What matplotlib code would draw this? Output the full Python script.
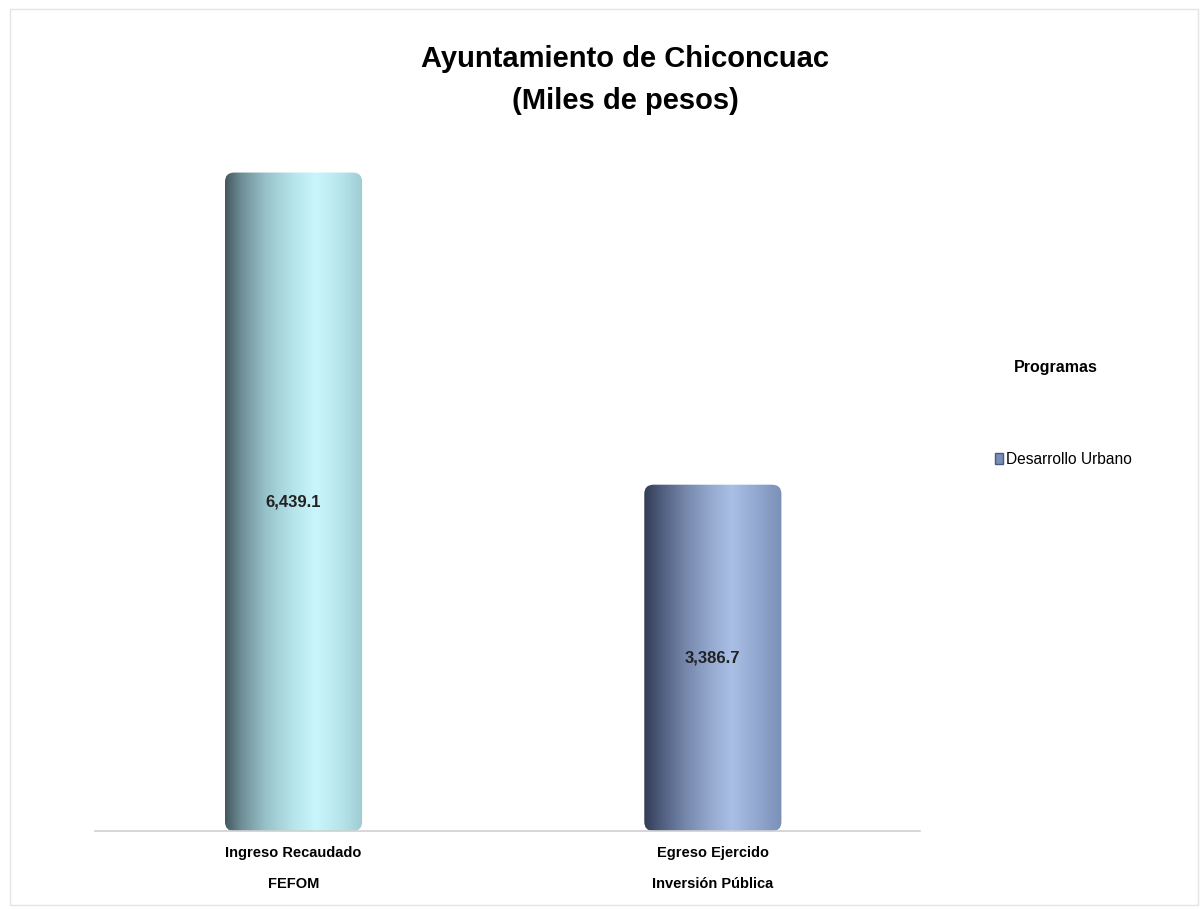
import numpy as np
import matplotlib
matplotlib.use("Agg")
import matplotlib.pyplot as plt
from matplotlib.colors import LinearSegmentedColormap
from matplotlib.patches import FancyBboxPatch, Rectangle

plt.rcParams["font.family"] = ["Liberation Sans", "DejaVu Sans"]

categories = ["Ingreso Recaudado\nFEFOM", "Egreso Ejercido\nInversión Pública"]
values = [6439.1, 3386.7]
value_labels = ["6,439.1", "3,386.7"]
series_name = "Desarrollo Urbano"

# left-to-right shading of each cylinder
GRADIENTS = [
    [(0.0, "#44585e"), (0.12, "#6f8f97"), (0.3, "#99c3cb"), (0.5, "#b7e5ec"),
     (0.66, "#c9f6fc"), (0.85, "#b6e4eb"), (1.0, "#9fcbd3")],
    [(0.0, "#323c54"), (0.12, "#4e5c7c"), (0.3, "#7587ab"), (0.5, "#98acd2"),
     (0.64, "#a9bfe5"), (0.85, "#8ea4cc"), (1.0, "#7b90b7")],
]

fig = plt.figure(figsize=(12, 9.1), dpi=100)
ax = fig.add_axes([0.079, 0.0868, 0.688, 0.781])

x = np.arange(len(categories))
bars = ax.bar(x, values, width=0.327, color="none", edgecolor="none")

ax.set_xlim(-0.474, 1.495)
ax.set_ylim(0, 6950)

# px per data unit ratio, so the top corners round evenly
asp = (0.688 * 1200 / 1.969) / (0.781 * 910 / 6950)

for i, b in enumerate(bars):
    bx, bw, bh = b.get_x(), b.get_width(), b.get_height()
    shape = FancyBboxPatch((bx, 0), bw, bh,
                           boxstyle="round,pad=0,rounding_size=0.022",
                           mutation_aspect=asp, facecolor="none",
                           edgecolor="none", zorder=2)
    ax.add_patch(shape)
    cmap = LinearSegmentedColormap.from_list(f"cyl{i}", GRADIENTS[i])
    grad = np.linspace(0, 1, 512).reshape(1, -1)
    im = ax.imshow(grad, cmap=cmap, extent=[bx, bx + bw, 0, bh],
                   aspect="auto", zorder=2, interpolation="bilinear")
    im.set_clip_path(shape)
    ax.text(bx + bw / 2, bh / 2, value_labels[i], ha="center",
            va="center", fontsize=12, fontweight="bold", color="#222222", zorder=3)

ax.set_xticks(x)
ax.set_xticklabels(categories, fontsize=10.5, fontweight="bold", linespacing=2.5)
ax.tick_params(axis="x", length=0, pad=11)
ax.set_yticks([])
for s in ["top", "right", "left"]:
    ax.spines[s].set_visible(False)
ax.spines["bottom"].set_color("#d0d0d0")
ax.spines["bottom"].set_linewidth(1.2)

fig.text(0.521, 0.912, "Ayuntamiento de Chiconcuac\n(Miles de pesos)", ha="center",
         va="center", fontsize=21, fontweight="bold", linespacing=1.62)

fig.text(0.88, 0.596, "Programas", ha="center", va="center", fontsize=11.5,
         fontweight="bold")
handle = Rectangle((0, 0), 1, 1, facecolor="#7a8fb6", edgecolor="#4a5a80")
fig.legend([handle], [series_name], loc="center left", bbox_to_anchor=(0.829, 0.495),
           frameon=False, fontsize=11.2, handlelength=0.5, handleheight=0.75,
           handletextpad=0.25, borderaxespad=0, borderpad=0)

fig.add_artist(Rectangle((0.008, 0.005), 0.99, 0.985, transform=fig.transFigure,
                         facecolor="none", edgecolor="#e4e4e4", linewidth=1))

fig.savefig("out.png", dpi=100, facecolor="white")
